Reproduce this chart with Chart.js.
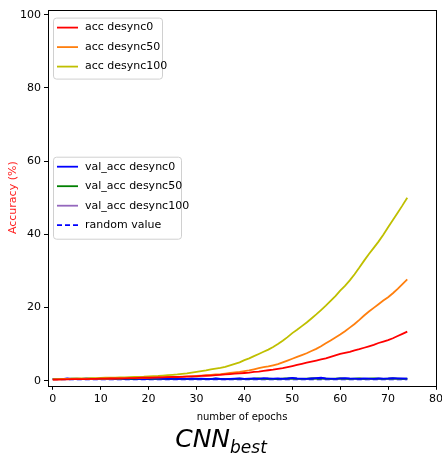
<!DOCTYPE html>
<html>
<head>
<meta charset="utf-8">
<script src="https://cdn.jsdelivr.net/npm/chart.js@4/dist/chart.umd.min.js"></script>
<style>
    body { margin: 0; background: #fff; }
    #wrap { position: relative; width: 442px; height: 457px; }
    #title {
        position: absolute; left: 0; top: 424px; width: 442px; text-align: center;
        font-family: "DejaVu Sans", sans-serif; font-style: italic; font-size: 25px; color: #000;
    }
    #title sub { font-size: 17px; }
</style>
</head>
<body>
<div id="wrap">
    <canvas id="accChart" width="442" height="457"></canvas>
    <div id="title">CNN<sub>best</sub></div>
</div>
<script>
// epochs 0..74
const epochs = [0,1,2,3,4,5,6,7,8,9,10,11,12,13,14,15,16,17,18,19,20,21,22,23,24,25,26,27,28,29,
    30,31,32,33,34,35,36,37,38,39,40,41,42,43,44,45,46,47,48,49,50,51,52,53,54,55,56,57,58,59,
    60,61,62,63,64,65,66,67,68,69,70,71,72,73,74];

const accDesync0 = [0.3,0.3,0.35,0.35,0.4,0.4,0.45,0.45,0.5,0.5,0.55,0.55,0.6,0.6,0.65,0.65,0.7,0.7,0.75,0.8,
    0.8,0.85,0.9,0.9,0.95,1.0,1.0,1.05,1.1,1.15,1.2,1.3,1.35,1.4,1.5,1.6,1.7,1.8,1.9,2.0,
    2.1,2.2,2.4,2.5,2.7,2.85,3.0,3.2,3.4,3.7,4.0,4.3,4.6,4.9,5.2,5.5,5.8,6.1,6.5,6.9,
    7.3,7.6,7.9,8.3,8.6,9.0,9.4,9.8,10.3,10.7,11.1,11.6,12.2,12.8,13.4];
const accDesync50 = [0.3,0.35,0.35,0.4,0.4,0.45,0.45,0.5,0.5,0.55,0.55,0.6,0.6,0.65,0.65,0.7,0.7,0.75,0.8,0.8,
    0.85,0.9,0.9,0.95,1.0,1.0,1.05,1.1,1.15,1.2,1.3,1.4,1.5,1.6,1.7,1.8,1.95,2.1,2.25,2.4,
    2.6,2.8,3.1,3.4,3.7,3.9,4.2,4.5,5.0,5.5,6.0,6.5,7.0,7.5,8.1,8.7,9.4,10.2,11.0,11.8,
    12.6,13.5,14.5,15.5,16.6,17.8,18.9,19.9,20.9,21.9,22.8,23.9,25.1,26.4,27.7];
const accDesync100 = [0.4,0.45,0.5,0.5,0.55,0.6,0.6,0.65,0.7,0.7,0.75,0.8,0.8,0.85,0.9,0.9,0.95,1.0,1.05,1.1,
    1.2,1.25,1.3,1.4,1.5,1.6,1.7,1.85,2.0,2.2,2.4,2.6,2.8,3.1,3.3,3.5,3.8,4.2,4.6,5.0,
    5.6,6.1,6.7,7.3,7.9,8.5,9.2,10.0,10.9,11.9,13.0,13.9,14.9,15.9,17.0,18.1,19.3,20.5,21.8,23.1,
    24.6,25.9,27.4,29.1,30.9,32.8,34.6,36.3,38.0,39.9,41.9,43.9,45.9,47.9,50.0];

const valDesync0 = [0.4,0.5,0.45,0.6,0.5,0.55,0.5,0.6,0.5,0.45,0.55,0.6,0.5,0.5,0.65,0.5,0.55,0.6,0.5,0.45,
    0.5,0.6,0.55,0.5,0.6,0.5,0.45,0.55,0.5,0.6,0.5,0.55,0.5,0.45,0.6,0.5,0.4,0.5,0.55,0.6,
    0.5,0.55,0.6,0.5,0.7,0.6,0.55,0.6,0.5,0.6,0.75,0.6,0.55,0.5,0.6,0.7,0.8,0.6,0.55,0.5,
    0.65,0.7,0.6,0.55,0.5,0.6,0.55,0.5,0.6,0.55,0.6,0.7,0.65,0.6,0.55];
const valDesync50 = [0.45,0.4,0.5,0.45,0.55,0.5,0.45,0.5,0.55,0.5,0.45,0.5,0.55,0.45,0.5,0.55,0.5,0.45,0.5,0.55,
    0.45,0.5,0.5,0.55,0.45,0.5,0.55,0.5,0.45,0.5,0.55,0.5,0.45,0.5,0.55,0.5,0.45,0.5,0.5,0.55,
    0.5,0.45,0.55,0.6,0.5,0.55,0.5,0.45,0.55,0.6,0.65,0.55,0.5,0.55,0.6,0.65,0.6,0.55,0.5,0.55,
    0.6,0.55,0.5,0.55,0.6,0.5,0.55,0.6,0.55,0.5,0.55,0.6,0.55,0.5,0.55];
const valDesync100 = [0.4,0.45,0.4,0.5,0.45,0.4,0.5,0.45,0.4,0.45,0.5,0.4,0.45,0.5,0.45,0.4,0.45,0.5,0.45,0.4,
    0.45,0.5,0.45,0.4,0.45,0.5,0.45,0.4,0.45,0.5,0.45,0.4,0.45,0.5,0.45,0.4,0.35,0.45,0.5,0.45,
    0.5,0.45,0.5,0.55,0.45,0.5,0.45,0.5,0.55,0.5,0.6,0.5,0.45,0.5,0.55,0.6,0.55,0.5,0.45,0.5,
    0.55,0.5,0.45,0.5,0.55,0.5,0.45,0.5,0.55,0.5,0.5,0.55,0.5,0.45,0.5];
// chance level, 1/256
const randomX = [0, 74];
const randomY = [0.39, 0.39];

const xTicks = [0, 10, 20, 30, 40, 50, 60, 70, 80];
const yTicks = [0, 20, 40, 60, 80, 100];

const legendTop = ['acc desync0', 'acc desync50', 'acc desync100'];
const legendMid = ['val_acc desync0', 'val_acc desync50', 'val_acc desync100', 'random value'];

function pts(xs, ys) {
    return xs.map(function (x, i) { return { x: x, y: ys[i] }; });
}

const FONT = '"DejaVu Sans", sans-serif';

// matplotlib-like legend boxes
const boxLegends = {
    id: 'boxLegends',
    afterDraw: function (chart) {
        const ctx = chart.ctx;
        const a = chart.chartArea;
        const ds = chart.data.datasets;
        function drawBox(x, y, w, h, idx, rowH) {
            ctx.save();
            ctx.fillStyle = 'rgba(255,255,255,0.85)';
            ctx.strokeStyle = '#d0d0d0';
            ctx.lineWidth = 1;
            ctx.beginPath();
            ctx.roundRect(x + 0.5, y + 0.5, w, h, 3);
            ctx.fill();
            ctx.stroke();
            ctx.font = '11px ' + FONT;
            ctx.textBaseline = 'middle';
            idx.forEach(function (d, k) {
                const yy = y + 10 + k * rowH;
                ctx.strokeStyle = ds[d].borderColor;
                ctx.lineWidth = 1.8;
                ctx.setLineDash(ds[d].borderDash || []);
                ctx.beginPath();
                ctx.moveTo(x + 4, yy);
                ctx.lineTo(x + 25, yy);
                ctx.stroke();
                ctx.setLineDash([]);
                ctx.fillStyle = '#000';
                ctx.fillText(ds[d].label, x + 32, yy);
            });
            ctx.restore();
        }
        drawBox(a.left + 5, a.top + 8, 109, 61, [0, 1, 2], 19.5);
        const midTop = (a.top + a.bottom) / 2 - 41;
        drawBox(a.left + 5, midTop, 128, 82, [3, 4, 5, 6], 19.5);
    }
};

// outer frame (all four spines)
const frame = {
    id: 'frame',
    afterDraw: function (chart) {
        const ctx = chart.ctx;
        const a = chart.chartArea;
        ctx.save();
        ctx.strokeStyle = '#000';
        ctx.lineWidth = 1;
        ctx.strokeRect(Math.round(a.left) + 0.5, Math.round(a.top) + 0.5,
            Math.round(a.right - a.left), Math.round(a.bottom - a.top));
        ctx.restore();
    }
};

const ctx = document.getElementById('accChart').getContext('2d');
const accChart = new Chart(ctx, {
    type: 'line',
    data: {
        datasets: [
            { label: legendTop[0], data: pts(epochs, accDesync0), borderColor: '#ff0000' },
            { label: legendTop[1], data: pts(epochs, accDesync50), borderColor: '#ff7f0e' },
            { label: legendTop[2], data: pts(epochs, accDesync100), borderColor: '#bfbf00' },
            { label: legendMid[0], data: pts(epochs, valDesync0), borderColor: '#0000ff' },
            { label: legendMid[1], data: pts(epochs, valDesync50), borderColor: '#008000' },
            { label: legendMid[2], data: pts(epochs, valDesync100), borderColor: '#9467bd' },
            { label: legendMid[3], data: pts(randomX, randomY), borderColor: '#0000ff', borderDash: [5, 3] }
        ]
    },
    options: {
        responsive: false,
        animation: false,
        events: [],
        datasets: {
            line: { borderWidth: 1.8, pointRadius: 0, fill: false, tension: 0 }
        },
        layout: {
            padding: { top: 8, right: 0, left: 0, bottom: 34 }
        },
        plugins: {
            legend: { display: false },
            tooltip: { enabled: false }
        },
        scales: {
            x: {
                type: 'linear',
                min: -1,
                max: 80,
                afterBuildTicks: function (scale) {
                    scale.ticks = xTicks.map(function (v) { return { value: v }; });
                },
                afterFit: function (scale) { scale.paddingRight = 6; },
                grid: { drawOnChartArea: false, drawTicks: true, tickLength: 4, color: '#000' },
                border: { display: false },
                ticks: { color: '#000', font: { family: FONT, size: 11 }, padding: 3, maxRotation: 0 },
                title: {
                    display: true,
                    text: 'number of epochs',
                    color: '#000',
                    font: { family: FONT, size: 10 },
                    padding: { top: 2, bottom: 0 }
                }
            },
            y: {
                type: 'linear',
                min: -1.4,
                max: 101.4,
                afterBuildTicks: function (scale) {
                    scale.ticks = yTicks.map(function (v) { return { value: v }; });
                },
                afterFit: function (scale) { scale.width = 48; },
                grid: { drawOnChartArea: false, drawTicks: true, tickLength: 4, color: '#000' },
                border: { display: false },
                ticks: { color: '#000', font: { family: FONT, size: 11 }, padding: 3 },
                title: {
                    display: true,
                    text: 'Accuracy (%)',
                    color: '#ff2020',
                    font: { family: FONT, size: 11 },
                    padding: { top: 7, bottom: 0 }
                }
            }
        }
    },
    plugins: [boxLegends, frame]
});
</script>
</body>
</html>
